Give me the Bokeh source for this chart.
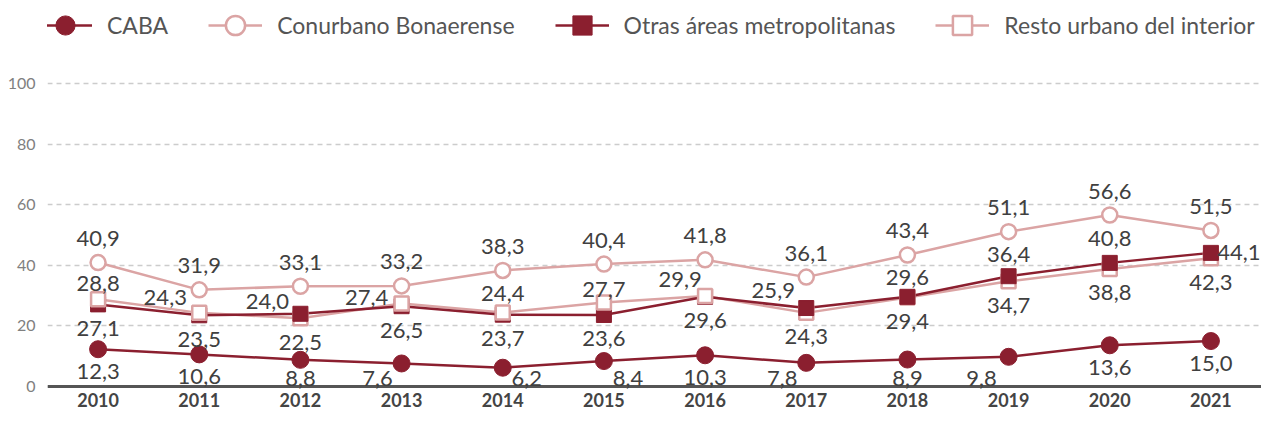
from bokeh.plotting import figure
from bokeh.models import (ColumnDataSource, Legend, LegendItem, FixedTicker,
                          FactorRange, Range1d, Span)
from bokeh.core.properties import value
from bokeh.embed import file_html
from bokeh.resources import INLINE

# ---------------- data ----------------
years = ["2010", "2011", "2012", "2013", "2014", "2015",
         "2016", "2017", "2018", "2019", "2020", "2021"]
caba = [12.3, 10.6, 8.8, 7.6, 6.2, 8.4, 10.3, 7.8, 8.9, 9.8, 13.6, 15.0]
conurbano = [40.9, 31.9, 33.1, 33.2, 38.3, 40.4, 41.8, 36.1, 43.4, 51.1, 56.6, 51.5]
otras = [27.1, 23.5, 24.0, 26.5, 23.7, 23.6, 29.6, 25.9, 29.6, 36.4, 40.8, 44.1]
resto = [28.8, 24.3, 22.5, 27.4, 24.4, 27.7, 29.9, 24.3, 29.4, 34.7, 38.8, 42.3]
series_names = ["CABA", "Conurbano Bonaerense",
                "Otras áreas metropolitanas", "Resto urbano del interior"]
y_ticks = [0, 20, 40, 60, 80, 100]

# ---------------- label layout (screen px) ----------------
caba_dx = [0, 0, 0, -24, 24, 24, 0, -24, 0, -27, 0, 0]
pair_upper_dx = [0, -34, -33, -35, 0, 0, -25, -33, 0, 0, 0, 28]
pair_upper_dy = [16, 15, 12, 6, 19, 13, 16, 18, 19, 22, 24, 0]

# ---------------- style ----------------
DARK = "#8b1f2f"
PINK = "#dba4a4"
TXT = "#404040"
FONT = "Lato"

W, H = 1261, 411
ZERO_PX = 386               # canvas px (from top) of value 0
HUNDRED_PX = 83             # canvas px (from top) of value 100
K = (ZERO_PX - HUNDRED_PX) / 100.0
Y_TOP = ZERO_PX / K
Y_BOT = -(H - ZERO_PX) / K
LEFT = 47

p = figure(width=W, height=H, x_range=FactorRange(*years),
           y_range=Range1d(Y_BOT, Y_TOP), output_backend="svg",
           toolbar_location=None, x_axis_location=None,
           min_border_top=0, min_border_right=0, min_border_bottom=0,
           min_border_left=LEFT)
p.outline_line_color = None
p.background_fill_color = None
p.border_fill_color = None

p.yaxis.ticker = FixedTicker(ticks=y_ticks)
p.yaxis.axis_line_color = None
p.yaxis.major_tick_line_color = None
p.yaxis.minor_tick_line_color = None
p.yaxis.major_tick_out = 0
p.yaxis.major_tick_in = 0
p.yaxis.major_label_standoff = 12
p.yaxis.major_label_text_font = FONT
p.yaxis.major_label_text_font_size = "16px"
p.yaxis.major_label_text_color = "#808080"

p.xgrid.visible = False
p.ygrid.ticker = FixedTicker(ticks=y_ticks)
p.ygrid.grid_line_color = "#cccccc"
p.ygrid.grid_line_dash = "5 4"
p.ygrid.grid_line_width = 1.5

# x axis line
p.add_layout(Span(location=0, dimension="width", line_color="#555555",
                  line_width=3, level="underlay"))

# year labels
p.text(years, [0] * len(years), text=years, y_offset=13.5,
       text_align="center", text_baseline="middle",
       text_font=value(FONT), text_font_style="bold",
       text_font_size="18px", text_color="#444444")

LW = 2.5

# lines
l_con = p.line(years, conurbano, line_color=PINK, line_width=LW)
l_res = p.line(years, resto, line_color=PINK, line_width=LW)
l_otr = p.line(years, otras, line_color=DARK, line_width=LW)
l_cab = p.line(years, caba, line_color=DARK, line_width=LW)

# markers: for the close pair, lower value drawn first, upper on top
def subset(vals, mask):
    return ColumnDataSource(dict(x=[y for y, m in zip(years, mask) if m],
                                 y=[v for v, m in zip(vals, mask) if m]))

otr_up = [o >= r for o, r in zip(otras, resto)]
res_up = [not u for u in otr_up]

def sq_otr(src):
    return p.scatter("x", "y", source=src, marker="square", size=15,
                     fill_color=DARK, line_color=DARK, line_width=1)

def sq_res(src):
    return p.scatter("x", "y", source=src, marker="square", size=14,
                     fill_color="white", line_color=PINK, line_width=LW)

s_otr_lo = sq_otr(subset(otras, res_up))
s_res_lo = sq_res(subset(resto, otr_up))
s_otr_up = sq_otr(subset(otras, otr_up))
s_res_up = sq_res(subset(resto, res_up))

s_con = p.scatter(years, conurbano, marker="circle", size=15,
                  fill_color="white", line_color=PINK, line_width=LW)
s_cab = p.scatter(years, caba, marker="circle", size=17,
                  fill_color=DARK, line_color=DARK, line_width=1)

# ---------------- data labels ----------------
def fmt(v):
    return f"{v:.1f}".replace(".", ",")

lab_x, lab_y, lab_t, lab_dx, lab_dy = [], [], [], [], []

for i, yr in enumerate(years):
    v = caba[i]
    lab_x.append(yr); lab_y.append(v); lab_t.append(fmt(v))
    lab_dx.append(caba_dx[i]); lab_dy.append(min(22, v * K - 8))
    v = conurbano[i]
    lab_x.append(yr); lab_y.append(v); lab_t.append(fmt(v))
    lab_dx.append(0); lab_dy.append(-24)
    hi = max(otras[i], resto[i])
    lo = min(otras[i], resto[i])
    lab_x.append(yr); lab_y.append(hi); lab_t.append(fmt(hi))
    lab_dx.append(pair_upper_dx[i]); lab_dy.append(-pair_upper_dy[i])
    lab_x.append(yr); lab_y.append(lo); lab_t.append(fmt(lo))
    lab_dx.append(0); lab_dy.append(24)

lab_src = ColumnDataSource(dict(x=lab_x, y=lab_y, t=lab_t, dx=lab_dx, dy=lab_dy))
p.text("x", "y", text="t", source=lab_src, x_offset="dx", y_offset="dy",
       text_align="center", text_baseline="middle",
       text_font=value(FONT), text_font_size="22px", text_color=TXT)

# ---------------- legend ----------------
GLYPH_H = 48
LEG_CENTER = 24.5            # canvas px from top
legend = Legend(items=[
    LegendItem(label=series_names[0], renderers=[l_cab, s_cab]),
    LegendItem(label=series_names[1], renderers=[l_con, s_con]),
    LegendItem(label=series_names[2], renderers=[l_otr, s_otr_up]),
    LegendItem(label=series_names[3], renderers=[l_res, s_res_up]),
], orientation="horizontal",
   location=(38 - LEFT, H - (LEG_CENTER + GLYPH_H / 2)),
   glyph_width=54, glyph_height=GLYPH_H, label_standoff=15, spacing=40,
   padding=0, margin=0, border_line_color=None, background_fill_alpha=0,
   label_text_font=FONT, label_text_font_size="23px",
   label_text_color="#555555", label_height=GLYPH_H)
p.add_layout(legend)

open("out.html", "w").write(file_html(p, INLINE))
